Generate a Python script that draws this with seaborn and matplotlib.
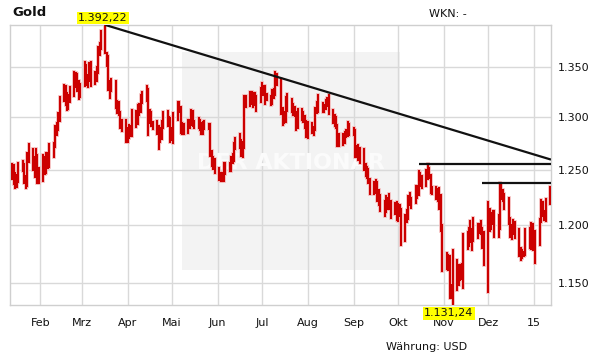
import numpy as np
import pandas as pd
import matplotlib
matplotlib.use("Agg")
import matplotlib.pyplot as plt
import matplotlib.ticker as mticker
import seaborn as sns

# ---------------- data (daily high / low, USD per ounce) ----------------
first_day = "2014-01-13"
last_day = "2015-01-12"

high = [
    1256, 1255, 1248, 1246, 1257,   # Jan 13
    1259, 1256, 1245, 1266, 1275,   # Jan 20
    1270, 1262, 1270, 1264, 1252,   # Jan 27
    1264, 1262, 1266, 1266, 1275,   # Feb 3
    1276, 1292, 1295, 1304, 1320,   # Feb 10
    1332, 1331, 1324, 1322, 1330,   # Feb 17
    1345, 1344, 1343, 1336, 1333,   # Feb 24
    1355, 1352, 1342, 1354, 1355,   # Mar 3
    1345, 1350, 1370, 1374, 1386,   # Mar 10
    1392.22, 1364, 1361, 1336, 1338,  # Mar 17
    1336, 1316, 1315, 1305, 1298,   # Mar 24
    1298, 1290, 1293, 1292, 1307,   # Mar 31
    1306, 1312, 1313, 1322, 1325,   # Apr 7
    1331, 1328, 1307, 1305, 1296,   # Apr 14
    1297, 1292, 1290, 1297, 1305,   # Apr 21
    1306, 1300, 1299, 1290, 1304,   # Apr 28
    1315, 1315, 1310, 1295, 1294,   # May 5
    1298, 1298, 1307, 1306, 1297,   # May 12
    1299, 1298, 1295, 1296, 1297,   # May 19
    1294, 1294, 1268, 1262, 1261,   # May 26
    1252, 1248, 1248, 1257, 1257,   # Jun 2
    1257, 1262, 1265, 1276, 1280,   # Jun 9
    1284, 1278, 1277, 1321, 1321,   # Jun 16
    1325, 1325, 1324, 1324, 1321,   # Jun 23
    1329, 1334, 1331, 1331, 1323,   # Jun 30
    1321, 1327, 1328, 1345, 1343,   # Jul 7
    1338, 1309, 1305, 1320, 1323,   # Jul 14
    1318, 1313, 1310, 1305, 1308,   # Jul 21
    1308, 1305, 1301, 1297, 1296,   # Jul 28
    1295, 1291, 1309, 1315, 1322,   # Aug 4
    1314, 1312, 1317, 1319, 1322,   # Aug 11
    1307, 1302, 1300, 1293, 1284,   # Aug 18
    1284, 1286, 1288, 1296, 1294,   # Aug 25
    1290, 1288, 1273, 1274, 1271,   # Sep 1
    1270, 1256, 1253, 1251, 1242,   # Sep 8
    1239, 1241, 1239, 1232, 1227,   # Sep 15
    1222, 1226, 1225, 1228, 1222,   # Sep 22
    1220, 1221, 1219, 1218, 1215,   # Sep 29
    1209, 1214, 1226, 1229, 1225,   # Oct 6
    1236, 1236, 1249, 1248, 1245,   # Oct 13
    1250, 1256, 1252, 1246, 1235,   # Oct 20
    1235, 1233, 1234, 1227, 1200,   # Oct 27
    1176, 1174, 1173, 1148, 1178,   # Nov 3
    1170, 1165, 1165, 1166, 1192,   # Nov 10
    1194, 1198, 1204, 1197, 1207,   # Nov 17
    1201, 1201, 1204, 1198, 1194,   # Nov 24
    1221, 1215, 1211, 1213, 1213,   # Dec 1
    1209, 1238, 1237, 1232, 1228,   # Dec 8
    1225, 1207, 1200, 1205, 1203,   # Dec 15
    1197, 1180, 1178, 1177, 1197,   # Dec 22
    1198, 1202, 1201, 1187, 1195,   # Dec 29
    1206, 1223, 1221, 1213, 1224,   # Jan 5
    1235,                           # Jan 12
]

low = [
    1242, 1237, 1234, 1235, 1239,
    1249, 1238, 1234, 1236, 1258,
    1250, 1244, 1245, 1238, 1238,
    1240, 1247, 1248, 1252, 1253,
    1262, 1272, 1283, 1288, 1297,
    1316, 1312, 1307, 1308, 1315,
    1321, 1330, 1326, 1318, 1320,
    1331, 1332, 1330, 1336, 1331,
    1333, 1336, 1344, 1362, 1368,
    1364, 1351, 1327, 1319, 1326,
    1309, 1304, 1302, 1290, 1287,
    1277, 1277, 1280, 1282, 1282,
    1291, 1294, 1302, 1305, 1314,
    1316, 1283, 1295, 1292, 1289,
    1284, 1270, 1277, 1279, 1290,
    1292, 1293, 1277, 1278, 1276,
    1298, 1305, 1285, 1284, 1284,
    1285, 1290, 1293, 1292, 1290,
    1290, 1288, 1284, 1284, 1289,
    1289, 1263, 1254, 1251, 1248,
    1241, 1240, 1240, 1240, 1247,
    1249, 1249, 1257, 1259, 1270,
    1271, 1263, 1262, 1271, 1310,
    1311, 1313, 1310, 1312, 1306,
    1315, 1322, 1322, 1313, 1317,
    1312, 1313, 1319, 1322, 1332,
    1303, 1293, 1295, 1296, 1306,
    1305, 1302, 1301, 1288, 1290,
    1298, 1296, 1290, 1281, 1280,
    1285, 1283, 1288, 1304, 1305,
    1305, 1305, 1308, 1311, 1303,
    1295, 1292, 1290, 1273, 1273,
    1274, 1276, 1281, 1282, 1283,
    1283, 1262, 1262, 1260, 1257,
    1250, 1245, 1243, 1238, 1228,
    1228, 1229, 1222, 1218, 1213,
    1208, 1212, 1215, 1215, 1207,
    1210, 1205, 1204, 1208, 1183,
    1186, 1203, 1206, 1218, 1216,
    1220, 1225, 1227, 1236, 1234,
    1236, 1242, 1243, 1229, 1228,
    1224, 1222, 1215, 1195, 1160,
    1162, 1161, 1137, 1137, 1131.24,
    1144, 1148, 1152, 1153, 1146,
    1179, 1182, 1185, 1178, 1186,
    1189, 1193, 1192, 1180, 1165,
    1142, 1195, 1197, 1201, 1190,
    1190, 1197, 1224, 1222, 1215,
    1201, 1190, 1188, 1192, 1189,
    1173, 1170, 1171, 1173, 1174,
    1180, 1179, 1178, 1182, 1167,
    1183, 1203, 1208, 1205, 1204,
    1219,
]

month_ticks = ["2014-02-01", "2014-03-01", "2014-04-01", "2014-05-01",
               "2014-06-01", "2014-07-01", "2014-08-01", "2014-09-01",
               "2014-10-01", "2014-11-01", "2014-12-01", "2015-01-01"]
month_labels = ["Feb", "Mrz", "Apr", "Mai", "Jun", "Jul", "Aug", "Sep",
                "Okt", "Nov", "Dez", "15"]
price_ticks = [1150, 1200, 1250, 1300, 1350]
price_labels = ["1.150", "1.200", "1.250", "1.300", "1.350"]

# chart-drawn trend / resistance lines
trend_dates = ["2014-03-17T00:00", "2015-01-12T12:00"]
trend_values = [1392.22, 1260]
resist1_dates = ["2014-10-15T00:00", "2015-01-12T12:00"]
resist1_values = [1256, 1256]
resist2_dates = ["2014-11-27T00:00", "2015-01-12T12:00"]
resist2_values = [1238, 1238]

x_range = ["2014-01-11T10:00", "2015-01-12T12:00"]


def to_dt(seq):
    return pd.to_datetime(seq, format="ISO8601")


# ---------------- build table ----------------
days = pd.bdate_range(first_day, last_day)
df = pd.DataFrame({
    "date": np.concatenate([days.values, days.values]),
    "price": np.concatenate([high, low]),
    "unit": np.concatenate([np.arange(len(days)), np.arange(len(days))]),
})

# ---------------- figure ----------------
W, H = 611, 364
fig = plt.figure(figsize=(W / 100, H / 100), dpi=100)
ax = fig.add_axes([10 / W, (H - 305) / H, 541 / W, 280 / H])
ax.set_facecolor("white")

ax.set_yscale("log")

# watermark
ax.add_patch(plt.Rectangle((0.318, 0.125), 0.403, 0.779, transform=ax.transAxes,
                           facecolor="#f3f3f3", edgecolor="none", zorder=0.5))
ax.text(0.519, 0.507, "DER AKTIONÄR", transform=ax.transAxes, ha="center",
        va="center", fontsize=16, fontweight="bold", color="#fbfbfb", zorder=0.6)

# bars (halo + red)
sns.lineplot(data=df, x="date", y="price", units="unit", estimator=None,
             color="#f4b8b8", lw=2.6, sort=False, legend=False, ax=ax, zorder=2)
sns.lineplot(data=df, x="date", y="price", units="unit", estimator=None,
             color="#cc0000", lw=1.45, sort=False, legend=False, ax=ax, zorder=3)

# trend lines
for d, v in [(trend_dates, trend_values), (resist1_dates, resist1_values),
             (resist2_dates, resist2_values)]:
    ax.plot(to_dt(d), v, color="#111111", lw=1.6, zorder=4,
            solid_capstyle="butt")

xr = to_dt(x_range)
ax.set_xlim(xr[0], xr[1])
ax.set_ylim(min(low), max(high))

ax.set_xticks(to_dt(month_ticks))
ax.set_xticklabels(month_labels)
ax.yaxis.set_major_locator(mticker.FixedLocator(price_ticks))
ax.yaxis.set_minor_locator(mticker.NullLocator())
ax.yaxis.set_major_formatter(mticker.FixedFormatter(price_labels))
ax.yaxis.tick_right()
ax.tick_params(axis="x", length=0, pad=9, labelsize=8, labelcolor="#111111")
ax.tick_params(axis="y", length=0, pad=5, labelsize=8, labelcolor="#111111")
ax.set_xlabel("")
ax.set_ylabel("")

ax.grid(True, color="#d9d9d9", lw=1)
ax.set_axisbelow(True)
for s in ax.spines.values():
    s.set_color("#cfcfcf")
    s.set_linewidth(1)

# max / min labels
hi_idx = int(np.argmax(high))
lo_idx = int(np.argmin(low))
ax.annotate("1.392,22", xy=(days[hi_idx], 1), xycoords=("data", "axes fraction"),
            xytext=(-2, 1.5), textcoords="offset points", ha="center", va="bottom",
            fontsize=8, color="#111111",
            bbox=dict(boxstyle="square,pad=0.12", fc="#ffff00", ec="none"),
            annotation_clip=False, zorder=6)
ax.annotate("1.131,24", xy=(days[lo_idx], 0), xycoords=("data", "axes fraction"),
            xytext=(-3, -2.5), textcoords="offset points", ha="center", va="top",
            fontsize=8, color="#111111",
            bbox=dict(boxstyle="square,pad=0.12", fc="#ffff00", ec="none"),
            annotation_clip=False, zorder=6)

fig.text(12 / W, 1 - 12 / H, "Gold", fontsize=9.5, fontweight="bold",
         va="center", ha="left", color="#111111")
fig.text(467 / W, 1 - 14 / H, "WKN: -", fontsize=8, va="center", ha="right",
         color="#111111")
fig.text(467 / W, 1 - 347 / H, "Währung: USD", fontsize=8, va="center",
         ha="right", color="#111111")

fig.savefig("out.png", dpi=100)
